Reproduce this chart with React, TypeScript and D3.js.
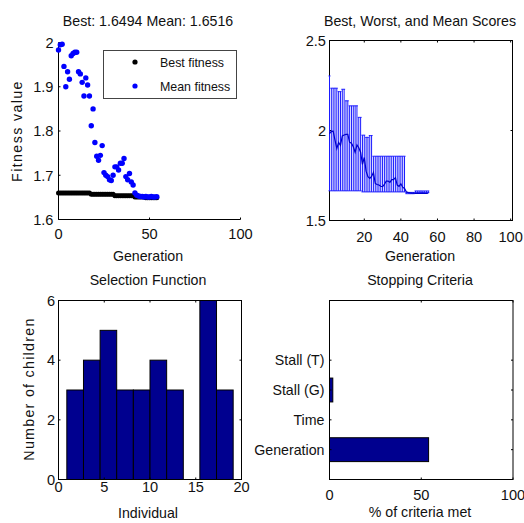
import React from 'react';
import * as d3 from 'd3';

// ---------- DATA ----------
// Generation 0..54 (top-left plot)
const generations = d3.range(0, 55);
const meanFitness = [
  1.983, 1.995, 1.996, 1.946, 1.900, 1.934, 1.917, 1.970, 1.975, 1.978,
  1.978, 1.934, 1.929, 1.910, 1.879, 1.920, 1.904, 1.879, 1.812, 1.850,
  1.774, 1.743, 1.734, 1.745, 1.767, 1.706, 1.700, 1.697, 1.690, 1.688,
  1.700, 1.719, 1.719, 1.712, 1.727, 1.727, 1.738, 1.697, 1.690, 1.704,
  1.685, 1.678, 1.660, 1.655, 1.653, 1.652, 1.652, 1.651, 1.652, 1.651,
  1.651, 1.652, 1.651, 1.651, 1.6516,
];
const bestFitness = [
  1.660, 1.660, 1.660, 1.660, 1.660, 1.660, 1.660, 1.660, 1.660, 1.660,
  1.660, 1.660, 1.660, 1.660, 1.660, 1.660, 1.660, 1.660, 1.657, 1.657,
  1.657, 1.657, 1.657, 1.657, 1.657, 1.657, 1.657, 1.657, 1.657, 1.657,
  1.657, 1.6535, 1.6535, 1.6535, 1.6535, 1.6535, 1.6535, 1.6535, 1.6535, 1.6535,
  1.6535, 1.6535, 1.651, 1.651, 1.651, 1.651, 1.651, 1.651, 1.6494, 1.6494,
  1.6494, 1.6494, 1.6494, 1.6494, 1.6494,
];
// Top-right: worst score per generation (generation index 1..55)
const worstScore = [
  2.303, 2.235, 2.235, 2.235, 2.235, 2.216, 2.216, 2.229, 2.229, 2.165,
  2.165, 2.137, 2.137, 2.137, 2.137, 2.137, 2.073, 2.073, 1.974, 1.974,
  1.962, 1.962, 1.972, 1.972, 1.857, 1.857, 1.857, 1.857, 1.857, 1.857,
  1.857, 1.857, 1.857, 1.857, 1.857, 1.857, 1.857, 1.857, 1.857, 1.857,
  1.857, 1.857, 1.656, 1.656, 1.656, 1.656, 1.656, 1.664, 1.664, 1.664,
  1.664, 1.664, 1.664, 1.664, 1.664,
];
const rangeBest = [
  1.665, 1.665, 1.665, 1.665, 1.665, 1.665, 1.665, 1.665, 1.665, 1.665,
  1.665, 1.665, 1.665, 1.665, 1.665, 1.665, 1.665, 1.665, 1.659, 1.659,
  1.659, 1.659, 1.659, 1.659, 1.659, 1.659, 1.659, 1.659, 1.659, 1.659,
  1.659, 1.659, 1.659, 1.659, 1.659, 1.659, 1.659, 1.659, 1.659, 1.659,
  1.659, 1.659, 1.649, 1.649, 1.649, 1.649, 1.649, 1.655, 1.655, 1.655,
  1.655, 1.655, 1.655, 1.655, 1.655,
];
// Selection function histogram
const selEdges = [0.91, 2.73, 4.55, 6.36, 8.18, 10.0, 11.82, 13.64, 15.45, 17.27, 19.09];
const selCounts = [3, 4, 5, 3, 3, 4, 3, 0, 6, 3];
// Stopping criteria
const criteria = ['Generation', 'Time', 'Stall (G)', 'Stall (T)'];
const criteriaPct = [54, 0, 1.8, 0];

const tlXTicks = [0, 50, 100];
const tlYTicks = [1.6, 1.7, 1.8, 1.9, 2];
const trXTicks = [20, 40, 60, 80, 100];
const trYTicks = [1.5, 2, 2.5];
const blXTicks = [0, 5, 10, 15, 20];
const blYTicks = [0, 2, 4, 6];
const brXTicks = [0, 50, 100];

const FONT = '"Liberation Sans", Arial, Helvetica, sans-serif';
const FS = 14.2;
const TFS = 14.6;
const TXT = '#111';
const NAVY = '#00008f';

type Scale = d3.ScaleLinear<number, number>;

function Axes(props: {
  x: Scale; y: Scale; xTicks: number[]; yTicks: number[];
  yTickLabels?: string[]; box: boolean; xLabOff: number; yLabGap: number;
  fmtY?: (v: number) => string; yFs?: number;
}) {
  const { x, y, xTicks, yTicks, box, xLabOff, yLabGap } = props;
  const [x0, x1] = x.range();
  const [y0, y1] = y.range(); // y0 bottom, y1 top
  const tl = 2;
  const fmtY = props.fmtY || ((v: number) => String(v));
  const yFs = props.yFs || TFS;
  return (
    <g>
      {box && <rect x={x0} y={y1} width={x1 - x0} height={y0 - y1} fill="none" stroke="#000" strokeWidth={1} />}
      {!box && <line x1={x0} x2={x0} y1={y1} y2={y0} stroke="#000" />}
      {!box && <line x1={x0} x2={x1} y1={y0} y2={y0} stroke="#000" />}
      {xTicks.map((t, i) => (
        <g key={'x' + i}>
          <line x1={x(t)} x2={x(t)} y1={y0} y2={y0 - tl} stroke="#000" />
          {box && <line x1={x(t)} x2={x(t)} y1={y1} y2={y1 + tl} stroke="#000" />}
          <text x={x(t)} y={y0 + xLabOff} textAnchor="middle" fontSize={TFS} fontFamily={FONT} fill={TXT}>{String(t)}</text>
        </g>
      ))}
      {yTicks.map((t, i) => (
        <g key={'y' + i}>
          <line x1={x0} x2={x0 + tl} y1={y(t)} y2={y(t)} stroke="#000" />
          {box && <line x1={x1} x2={x1 - tl} y1={y(t)} y2={y(t)} stroke="#000" />}
          <text x={x0 - yLabGap} y={y(t)} dy="0.36em" textAnchor="end" fontSize={yFs} fontFamily={FONT} fill={TXT}>
            {props.yTickLabels ? props.yTickLabels[i] : fmtY(t)}
          </text>
        </g>
      ))}
    </g>
  );
}

function Label(props: { x: number; y: number; text: string; rotate?: boolean; anchor?: string; fs?: number; ls?: number }) {
  const { x, y, text, rotate } = props;
  return (
    <text x={x} y={y} textAnchor={(props.anchor as any) || 'middle'} fontSize={props.fs || FS} fontFamily={FONT} fill={TXT}
      letterSpacing={props.ls || 0}
      transform={rotate ? `rotate(-90 ${x} ${y})` : undefined}>{text}</text>
  );
}

export default function App() {
  // Top-left
  const tlX = d3.scaleLinear().domain([0, 100]).range([58.5, 240.5]);
  const tlY = d3.scaleLinear().domain([1.6, 2]).range([219.5, 42.5]);
  // Top-right
  const trX = d3.scaleLinear().domain([1, 101]).range([329.5, 512.5]);
  const trY = d3.scaleLinear().domain([1.5, 2.5]).range([220.5, 40.5]);
  // Bottom-left
  const blX = d3.scaleLinear().domain([0, 20]).range([58.5, 241.5]);
  const blY = d3.scaleLinear().domain([0, 6]).range([479.5, 300.5]);
  // Bottom-right
  const brX = d3.scaleLinear().domain([0, 100]).range([329.5, 513]);
  const brY = d3.scaleLinear().domain([0, 6]).range([479.5, 300.5]);

  const trGens = worstScore.map((_, i) => i + 1);
  const cap = 0.54;
  const meanLine = d3.line<number>().x((_, i) => trX(trGens[i])).y((d) => trY(d))(meanFitness) || '';

  return (
    <svg width={524} height={523} style={{ position: 'absolute', left: 0, top: 0, background: '#fff' }}>
      <rect x={0} y={0} width={524} height={523} fill="#fff" />

      {/* ---------- Top-left: best & mean fitness ---------- */}
      <Axes x={tlX} y={tlY} xTicks={tlXTicks} yTicks={tlYTicks} box={false} xLabOff={19} yLabGap={5}
        fmtY={(v) => (v === 2 ? '2' : v.toFixed(1))} />
      <g>
        {generations.map((g, i) => (
          <circle key={'b' + i} cx={tlX(g)} cy={tlY(bestFitness[i])} r={2.5} fill="#000" />
        ))}
        {generations.map((g, i) => (
          <circle key={'m' + i} cx={tlX(g)} cy={tlY(meanFitness[i])} r={2.7} fill="#0000ff" />
        ))}
      </g>
      <g>
        <rect x={103.5} y={50.5} width={133} height={48} fill="#fff" stroke="#444" strokeWidth={1} />
        <circle cx={135} cy={62} r={2.6} fill="#000" />
        <circle cx={135} cy={86} r={2.6} fill="#0000ff" />
        <Label x={160} y={66.5} text="Best fitness" anchor="start" fs={12.4} />
        <Label x={160} y={90.5} text="Mean fitness" anchor="start" fs={12.4} />
      </g>
      <Label x={148} y={26} text="Best: 1.6494 Mean: 1.6516" />
      <Label x={148} y={261} text="Generation" />
      <Label x={22} y={131} text="Fitness value" rotate ls={1.4} />

      {/* ---------- Top-right: best, worst, mean ---------- */}
      <Axes x={trX} y={trY} xTicks={trXTicks} yTicks={trYTicks} box={true} xLabOff={21} yLabGap={3.5} />
      <g stroke="#1a1aff" strokeWidth={1} fill="none">
        {trGens.map((g, i) => {
          const xc = trX(g);
          const xl = trX(g - cap);
          const xr = trX(g + cap);
          const yt = trY(worstScore[i]);
          const yb = trY(rangeBest[i]);
          return (
            <g key={'e' + i}>
              <line x1={xc} x2={xc} y1={yt} y2={yb} />
              <line x1={xl} x2={xr} y1={yt} y2={yt} />
              <line x1={xl} x2={xr} y1={yb} y2={yb} />
            </g>
          );
        })}
      </g>
      <path d={meanLine} fill="none" stroke="#0000cc" strokeWidth={1.2} />
      <Label x={420} y={26} text="Best, Worst, and Mean Scores" />
      <Label x={420} y={261} text="Generation" />

      {/* ---------- Bottom-left: selection function ---------- */}
      <g>
        {selCounts.map((c, i) =>
          c > 0 ? (
            <rect key={'h' + i} x={blX(selEdges[i])} y={blY(c)} width={blX(selEdges[i + 1]) - blX(selEdges[i])}
              height={blY(0) - blY(c)} fill={NAVY} stroke="#000" strokeWidth={1} />
          ) : null
        )}
      </g>
      <Axes x={blX} y={blY} xTicks={blXTicks} yTicks={blYTicks} box={true} xLabOff={12.5} yLabGap={3.5} />
      <Label x={148} y={285} text="Selection Function" />
      <Label x={148} y={518} text="Individual" />
      <Label x={34} y={389} text="Number of children" rotate ls={1.3} />

      {/* ---------- Bottom-right: stopping criteria ---------- */}
      <g>
        {criteria.map((c, i) =>
          criteriaPct[i] > 0 ? (
            <rect key={'s' + i} x={brX(0)} y={brY(i + 1.4)} width={brX(criteriaPct[i]) - brX(0)}
              height={brY(i + 0.6) - brY(i + 1.4)} fill={NAVY} stroke="#000" strokeWidth={1} />
          ) : null
        )}
      </g>
      <Axes x={brX} y={brY} xTicks={brXTicks} yTicks={[1, 2, 3, 4]} yTickLabels={criteria} box={true} xLabOff={20} yLabGap={5} yFs={FS} />
      <Label x={420} y={285} text="Stopping Criteria" />
      <Label x={420} y={517} text="% of criteria met" />
    </svg>
  );
}
